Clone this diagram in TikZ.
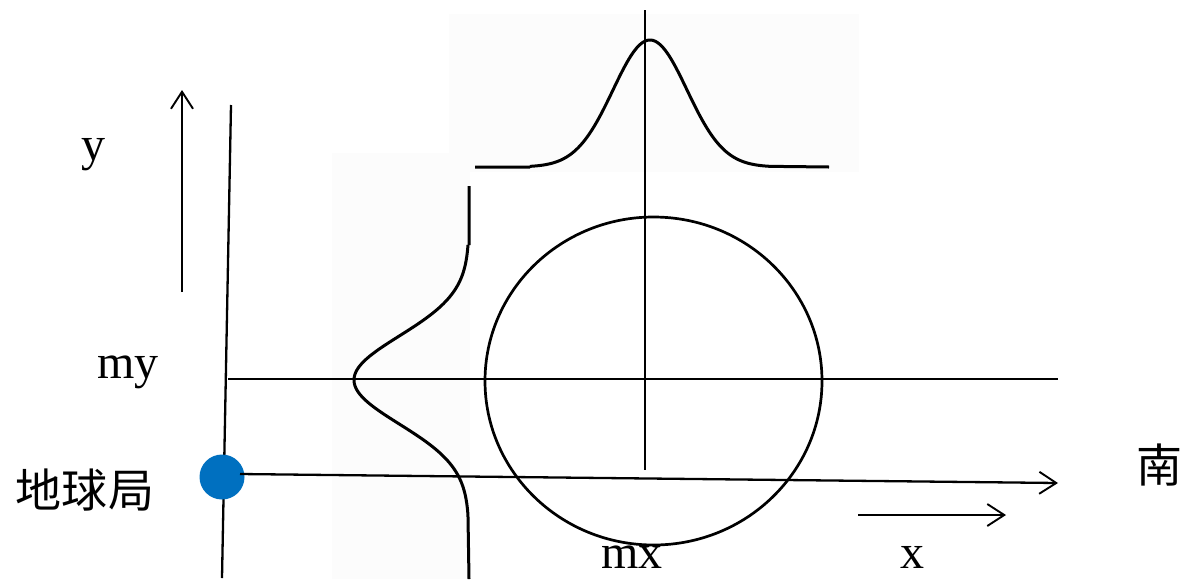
\documentclass[tikz,border=0pt]{standalone}
\usepackage{fontspec}
\setmainfont{Liberation Serif}
\newfontfamily\cjk{Noto Sans CJK SC}
\usetikzlibrary{arrows.meta,shapes.geometric}
\definecolor{paper}{HTML}{FCFCFC}
\definecolor{dotblue}{HTML}{0070C0}
\tikzset{
  ln/.style={line width=2.3pt, black},
  arr/.style={ln, -{Straight Barb[length=17pt,width=22pt,line width=1.9pt]}},
  curve/.style={line width=3pt, black, line join=round},
  lbl/.style={font=\fontsize{48}{50}\selectfont, inner sep=0pt},
  cjklbl/.style={font=\cjk\fontsize{46}{48}\selectfont, inner sep=0pt}
}
\begin{document}
\begin{tikzpicture}[x=1pt,y=-1pt]
\useasboundingbox (0,0) rectangle (1182,579);
% light background panels
\fill[paper] (449,14) rectangle (859,172);
\fill[paper] (332,153) rectangle (470,579);
% top gaussian
\draw[curve] (475,167) -- (530,167)
  plot[domain=530:770, samples=120, smooth] (\x,{167-127*exp(-0.5*((\x-650)/37)^2)})
  -- (829,167);
% left gaussian (rotated)
\draw[curve] (469,186) -- (469,245)
  plot[domain=245:515, samples=120, smooth] ({469-115*exp(-0.5*((\x-380)/44)^2)},\x)
  -- (469,579);
% axes lines
\coordinate (vt) at (645,10);
\coordinate (vb) at (645,470);
\draw[ln] (vt) -- (vb);
\coordinate (hl) at (228,379);
\coordinate (hr) at (1058,379);
\draw[ln] (hl) -- (hr);
% circle
\node[draw, line width=2.7pt, ellipse, minimum width=337pt, minimum height=328pt, inner sep=0pt] (circ) at (653.5,381) {};
% left vertical line
\coordinate (lt) at (231,105);
\coordinate (lb) at (222,578);
\draw[ln] (lt) -- (lb);
% up arrow
\coordinate (ua) at (182,292);
\coordinate (ub) at (182,90);
\draw[arr] (ua) -- (ub);
% blue dot and arrow
\node[circle, fill=dotblue, minimum size=45pt, inner sep=0pt] (dot) at (222,477) {};
\coordinate (ae) at (1058,483);
\draw[arr] (240,474) -- (ae);
% small x arrow
\coordinate (xa) at (858,515);
\coordinate (xb) at (1006,515);
\draw[arr] (xa) -- (xb);
% labels
\node[lbl] (ylab) at (93,155) {y};
\node[lbl] (mylab) at (128,372) {my};
\node[lbl] (mxlab) at (632,557) {mx};
\node[lbl] (xlab) at (912,557) {x};
\node[cjklbl] (station) at (85,490) {地球局};
\node[cjklbl] (south) at (1159,465) {南};
\end{tikzpicture}
\end{document}
